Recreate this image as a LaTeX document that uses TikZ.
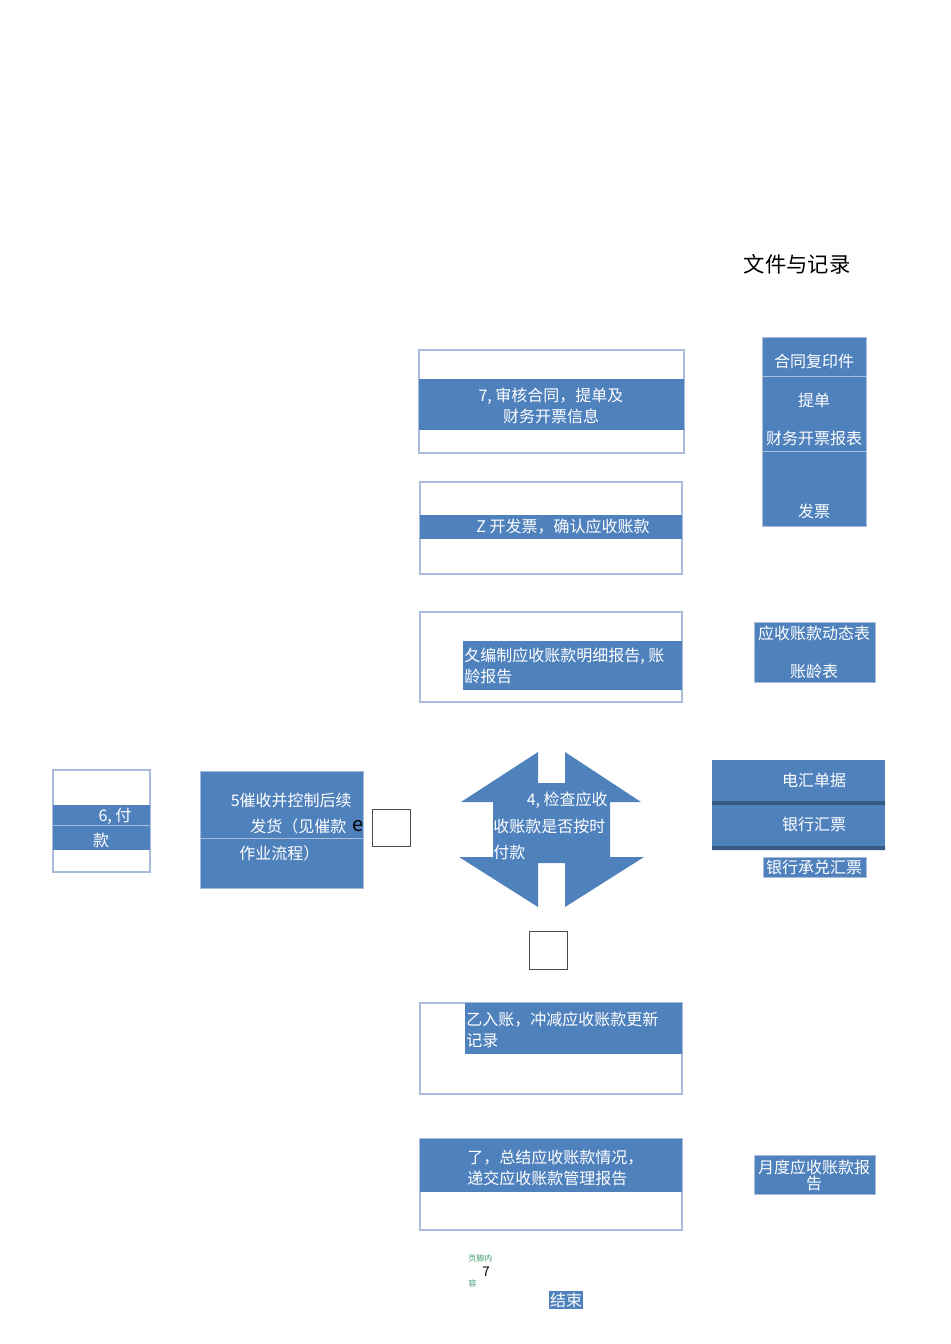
\documentclass[tikz,border=0pt]{standalone}
\usepackage{fontspec}
\setmainfont{Noto Sans CJK SC}
\newfontfamily\cjk{Noto Sans CJK SC}
\definecolor{bl}{HTML}{4F81BD}
\definecolor{edge}{HTML}{A9BCDB}
\definecolor{gr}{HTML}{3A9A6A}
\begin{document}
\begin{tikzpicture}[x=0.75pt,y=-0.75pt,
  frame/.style={draw=edge,line width=0.8pt,fill=white},
  band/.style={fill=bl},
  wt/.style={text=white,font=\fontsize{12}{16}\selectfont,inner sep=0pt},
  sq/.style={draw=black!70,line width=0.8pt,fill=white,minimum width=28.5pt,minimum height=28pt,inner sep=0pt}]
\useasboundingbox (0,0) rectangle (950,1344);
\node[font=\fontsize{16}{20}\selectfont] (title) at (797,264) {文件与记录};
% box 1
\draw[frame] (419,350) rectangle (684,453);
\fill[band] (419,379) rectangle (684,430);
\node[wt,align=center] (b1) at (551,406) {\textit{7,} 审核合同，提单及\\财务开票信息};
% box 2
\draw[frame] (420,482) rectangle (682,574);
\fill[band] (420,515) rectangle (682,539);
\node[wt] (b2) at (563,527) {Z 开发票，确认应收账款};
% box 3
\draw[frame] (420,612) rectangle (682,702);
\fill[band] (463,641) rectangle (682,690);
\node[wt,align=left,anchor=west] (b3) at (464,666) {\textit{夂}编制应收账款明细报告, 账\\龄报告};
% right docs
\fill[bl,draw=edge] (762,337) rectangle (866,526);
\draw[edge,line width=0.4pt] (762,376) -- (866,376) (762,451) -- (866,451);
\node[wt] (d1) at (814,361) {合同复印件};
\node[wt] (d2) at (814,400) {提单};
\node[wt] (d3) at (814,438) {财务开票报表};
\node[wt] (d4) at (814,511) {发票};
\fill[bl,draw=edge] (754,622) rectangle (875,682);
\node[wt] (d5) at (814,633) {应收账款动态表};
\node[wt] (d6) at (814,671) {账龄表};
\fill[bl] (712,760) rectangle (885,850);
\fill[bl!70!black] (712,801) rectangle (885,805) (712,846) rectangle (885,850);
\node[wt] (d7) at (814,780) {电汇单据};
\node[wt] (d8) at (814,824) {银行汇票};
\fill[bl,draw=edge] (763,857) rectangle (866,877);
\node[wt] (d9) at (814,867) {银行承兑汇票};
\fill[bl,draw=edge] (754,1155) rectangle (875,1194);
\node[wt,align=center,font=\fontsize{12}{12}\selectfont] (d10) at (814,1175) {月度应收账款报\\告};
% 6
\draw[frame] (53,770) rectangle (150,872);
\fill[band] (53,805) rectangle (150,850);
\draw[edge,line width=0.4pt] (53,825) -- (150,825);
\node[wt,align=left] (b6a) at (115,816) {\textit{6,} 付};
\node[wt] (b6b) at (101,840) {款};
% 5
\fill[bl,draw=edge] (200,771) rectangle (363,888);
\draw[edge,line width=0.4pt] (200,838) -- (363,838);
\node[wt,anchor=east] (b5a) at (352,800) {\textit{5}催收并控制后续};
\node[wt,anchor=west] (b5b) at (250,826) {发货（见催款};
\node[wt,anchor=west] (b5c) at (239,853) {作业流程）};
\node[inner sep=0pt,font=\fontsize{15}{15}\selectfont] (e) at (358,826) {e};
\node[sq] (s1) at (391.5,828) {};
\node[sq] (s2) at (548.5,950.5) {};
% 4 cross
\fill[bl] (461,802) -- (538,752) -- (538,783) -- (565,783) -- (565,752) -- (641,802) -- (610,802) -- (610,857) -- (644,857) -- (565,907) -- (565,863) -- (538,863) -- (538,907) -- (459,857) -- (493,857) -- (493,802) -- cycle;
\node[wt,anchor=east] (b4a) at (608,800) {\textit{4,} 检查应收};
\node[wt,anchor=west] (b4b) at (493,826) {收账款是否按时};
\node[wt,anchor=west] (b4c) at (493,852) {付款};
% 乙
\draw[frame] (420,1003) rectangle (682,1094);
\fill[band] (465,1003) rectangle (682,1054);
\node[wt,align=left,anchor=west] (b8) at (466,1030) {乙入账，冲减应收账款更新\\记录};
% 了
\draw[frame] (420,1139) rectangle (682,1230);
\fill[band] (420,1139) rectangle (682,1192);
\node[wt,align=left,anchor=west] (b9) at (467,1168) {了，总结应收账款情况，\\递交应收账款管理报告};
% footer
\node[text=gr,font=\fontsize{6}{6}\selectfont,inner sep=0pt,anchor=west] (f1) at (468,1258) {页脚内};
\node[font=\fontsize{10}{10}\selectfont\itshape,inner sep=0pt] (f2) at (486,1272) {7};
\node[text=gr,font=\fontsize{6}{6}\selectfont,inner sep=0pt,anchor=west] (f3) at (468,1283) {容};
\node[wt,fill=bl,inner sep=1pt] (end) at (566,1300) {结束};
\end{tikzpicture}
\end{document}
